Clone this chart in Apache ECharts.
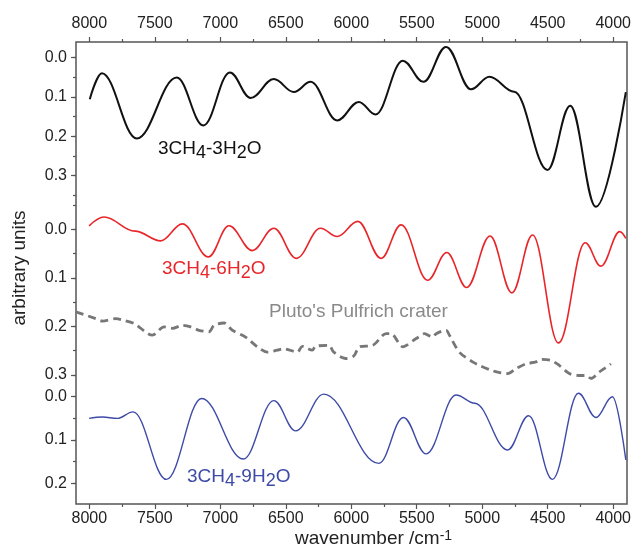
<!DOCTYPE html>
<html><head><meta charset="utf-8">
<script src="https://cdn.jsdelivr.net/npm/echarts@6/dist/echarts.min.js"></script>
<style>html,body{margin:0;padding:0;background:#fff}#c{width:634px;height:555px}</style>
</head><body><div id="c"></div>
<script>
// ---- data (wavenumber in cm^-1, absorbance in arbitrary units): peaks, troughs, shoulders ----
const blackWn  = [7995,7903,7637,7332,7129,6927,6769,6592,6439,6312,6109,5944,5817,5609,5452,5279,5089,4949,4760,4506,4333,4137,3909];
const blackAbs = [0.106,0.040,0.206,0.051,0.173,0.038,0.103,0.055,0.088,0.062,0.160,0.113,0.145,0.008,0.062,-0.027,0.081,0.049,0.087,0.286,0.123,0.380,0.088];

const redWn  = [8000,7886,7650,7454,7289,7091,6934,6756,6592,6421,6236,6109,5952,5774,5622,5419,5274,5122,4944,4777,4620,4422,4219,4099,3955,3909];
const redAbs = [-0.007,-0.025,0.004,0.024,-0.011,0.057,-0.007,0.044,-0.002,0.060,-0.002,0.015,-0.016,0.060,-0.009,0.105,0.048,0.120,0.014,0.131,0.012,0.234,0.028,0.076,0.005,0.019];

const plutoWn  = [8101,7949,7898,7797,7746,7657,7517,7429,7365,7289,7226,7163,7086,7048,6972,6908,6807,6718,6642,6566,6516,6413,6375,6299,6274,6173,6135,6046,5983,5939,5838,5736,5698,5609,5507,5444,5381,5355,5279,5254,5178,5077,5026,4937,4886,4810,4746,4670,4594,4556,4480,4417,4340,4264,4213,4175,4112,4074,4023];
const plutoAbs = [0.170,0.184,0.189,0.184,0.187,0.194,0.218,0.201,0.204,0.198,0.201,0.208,0.211,0.198,0.193,0.208,0.222,0.242,0.253,0.249,0.246,0.253,0.241,0.249,0.241,0.239,0.253,0.266,0.261,0.242,0.239,0.215,0.215,0.242,0.225,0.215,0.222,0.215,0.208,0.218,0.253,0.273,0.280,0.290,0.294,0.297,0.287,0.277,0.273,0.268,0.270,0.280,0.297,0.301,0.301,0.307,0.294,0.287,0.277];

const blueWn  = [8000,7898,7784,7665,7411,7142,6825,6592,6426,6211,5792,5604,5431,5203,5060,4810,4650,4468,4270,4137,4011,3909];
const blueAbs = [0.050,0.047,0.050,0.035,0.191,0.004,0.144,0.009,0.079,-0.006,0.154,0.048,0.132,-0.004,0.015,0.123,0.044,0.191,-0.008,0.048,0.000,0.146];

const xTickLabels = ['4000','4500','5000','5500','6000','6500','7000','7500','8000'];
const yTickLabels = ['0.0','0.1','0.2','0.3'];

// ---- layout ----
const FONT = '"Liberation Sans", Arial, Helvetica, sans-serif';
const AX = '#555';
const TXT = '#222';
const L = 76, WID = 551, TOP = 42, HGT = 462;
const panels = [
  {y0: 57.5,  s: 393, major: [0, 0.3], minor: [0, 0.35]},
  {y0: 229.2, s: 486, major: [0, 0.3], minor: [-0.05, 0.3]},
  {y0: 396.7, s: 433, major: [0, 0.2], minor: [0, 0.2]}
];
const zip = (a, b) => a.map((v, i) => [v, b[i]]);

const grid = [
  {left: L, top: TOP, width: WID, height: HGT, show: true, borderColor: AX, borderWidth: 1.5, backgroundColor: 'transparent'},
  {left: 89.3, top: TOP, width: 525.4, height: HGT}
];
const xAxis = [
  {type: 'value', gridIndex: 0, min: 3900, max: 8100, inverse: true, show: false},
];
const tickX = (pos, margin) => ({
  type: 'value', gridIndex: 1, position: pos, min: 4000, max: 8000, interval: 500, inverse: true,
  axisLine: {show: false},
  axisTick: {show: true, length: 5, lineStyle: {color: AX, width: 1.2}},
  minorTick: {show: true, splitNumber: 2, length: 3, lineStyle: {color: AX, width: 1.2}},
  splitLine: {show: false}, minorSplitLine: {show: false},
  axisLabel: {margin: margin, fontSize: 16, fontFamily: FONT, color: TXT,
    formatter: v => xTickLabels.includes(String(Math.round(v))) ? String(Math.round(v)) : ''}
});
xAxis.push(tickX('bottom', 7), tickX('top', 10));
const yAxis = [
  {type: 'value', gridIndex: 0, min: 0, max: 1, show: false},
  {type: 'value', gridIndex: 1, min: 0, max: 1, show: false}
];
panels.forEach((p, i) => {
  const gMaj = grid.length;
  grid.push({left: L, width: WID, top: p.y0 + p.s * p.major[0], height: p.s * (p.major[1] - p.major[0])});
  grid.push({left: L, width: WID, top: p.y0 + p.s * p.minor[0], height: p.s * (p.minor[1] - p.minor[0])});
  xAxis.push({type: 'value', gridIndex: gMaj, min: 3900, max: 8100, inverse: true, show: false});
  xAxis.push({type: 'value', gridIndex: gMaj + 1, min: 3900, max: 8100, inverse: true, show: false});
  yAxis.push({
    type: 'value', gridIndex: gMaj, min: p.major[0], max: p.major[1], interval: 0.1, inverse: true,
    axisLine: {show: false},
    axisTick: {show: true, length: 5, lineStyle: {color: AX, width: 1.2}},
    splitLine: {show: false},
    axisLabel: {margin: 9, fontSize: 16, fontFamily: FONT, color: TXT,
      formatter: v => yTickLabels[Math.round(v * 10)] || ''}
  });
  yAxis.push({
    type: 'value', gridIndex: gMaj + 1, min: p.minor[0], max: p.minor[1], interval: 0.05, inverse: true,
    axisLine: {show: false},
    axisTick: {show: true, length: 3, lineStyle: {color: AX, width: 1.2}},
    splitLine: {show: false}, axisLabel: {show: false}
  });
});
// panel i major grid -> xAxis 3+2i, yAxis 2+2i
const line = (i, data, color, width, type, smooth, mono) => ({
  type: 'line', xAxisIndex: 3 + 2 * i, yAxisIndex: 2 + 2 * i, data: data,
  smooth: smooth, smoothMonotone: mono, symbol: 'none', clip: false,
  lineStyle: {color: color, width: width, type: type}
});

// label with subscripts: parts = [[text, isSub], ...]
const ctx = document.createElement('canvas').getContext('2d');
function subLabel(x, y, parts, color, size, subSize, shift) {
  const children = [];
  let cx = 0;
  parts.forEach(([t, isSub]) => {
    const fs = isSub ? subSize : size;
    const font = fs + 'px ' + FONT;
    ctx.font = font;
    children.push({type: 'text', x: cx, y: isSub ? shift : 0,
      style: {text: t, font: font, fill: color, verticalAlign: 'top'}});
    cx += ctx.measureText(t).width;
  });
  return {type: 'group', x: x, y: y, children: children};
}

const option = {
  animation: false,
  backgroundColor: '#fff',
  grid: grid, xAxis: xAxis, yAxis: yAxis,
  series: [
    line(0, zip(blackWn, blackAbs), '#111', 2, 'solid', 0.38, 'x'),
    line(1, zip(redWn, redAbs), '#e8262a', 1.6, 'solid', 0.38, 'x'),
    line(1, zip(plutoWn, plutoAbs), '#777', 2.8, [8, 5], 0.3, undefined),
    line(2, zip(blueWn, blueAbs), '#3d4aa6', 1.4, 'solid', 0.38, 'x')
  ],
  graphic: [
    subLabel(158, 139, [['3CH', 0], ['4', 1], ['-3H', 0], ['2', 1], ['O', 0]], '#111', 19, 18, 5),
    subLabel(162, 259, [['3CH', 0], ['4', 1], ['-6H', 0], ['2', 1], ['O', 0]], '#e8262a', 19, 18, 5),
    {type: 'text', x: 269, y: 302, style: {text: "Pluto's Pulfrich crater", fill: '#8a8a8a', font: '19px ' + FONT}},
    subLabel(187, 467, [['3CH', 0], ['4', 1], ['-9H', 0], ['2', 1], ['O', 0]], '#3d4aa6', 19, 18, 5),
    {type: 'text', x: 295, y: 529, style: {
      text: '{n|wavenumber /cm}{p|-1}', fill: TXT,
      rich: {
        n: {fontSize: 19, fontFamily: FONT, lineHeight: 19, verticalAlign: 'bottom', padding: [5, 0, 0, 0], fill: TXT},
        p: {fontSize: 14, fontFamily: FONT, lineHeight: 14, verticalAlign: 'top', fill: TXT}
      }}},
    {type: 'text', x: 20, y: 268, rotation: Math.PI / 2, style: {
      text: 'arbitrary units', fill: TXT, font: '19px ' + FONT, align: 'center', verticalAlign: 'middle'}}
  ]
};
echarts.init(document.getElementById('c'), null, {renderer: 'canvas'}).setOption(option);
</script>
</body></html>
